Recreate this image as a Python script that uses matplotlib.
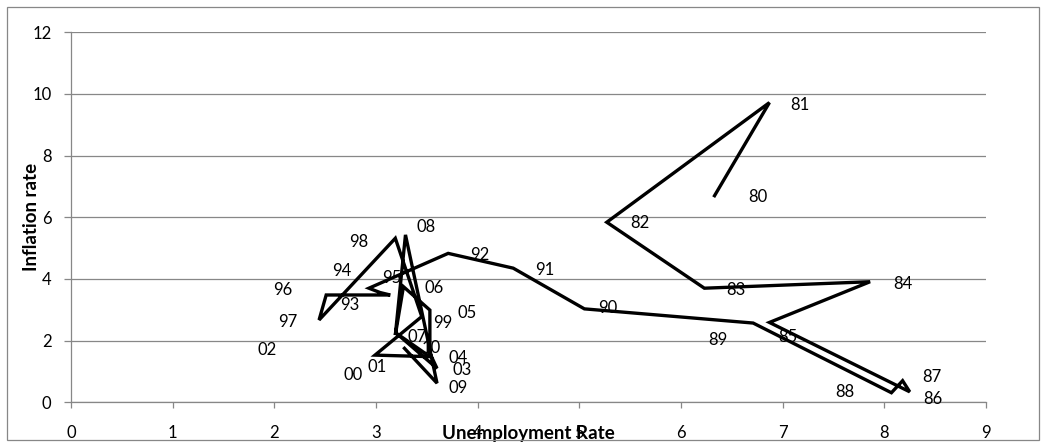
import matplotlib
matplotlib.use("Agg")
import matplotlib.pyplot as plt
from matplotlib.patches import Rectangle

# year labels and the (unemployment, inflation) path, in year order
years = ["80", "81", "82", "83", "84", "85", "86", "87", "88", "89",
         "90", "91", "92", "93", "94", "95", "96", "97", "98", "99",
         "00", "01", "02", "03", "04", "05", "06", "07", "08", "09", "10"]
unemployment = [6.33, 6.87, 5.27, 6.23, 7.86, 6.87, 8.25, 8.18, 8.07, 6.71,
                5.05, 4.35, 3.71, 2.93, 3.04, 3.14, 2.51, 2.44, 3.19, 3.45,
                2.99, 3.53, 3.20, 3.60, 3.53, 3.53, 3.27, 3.19, 3.29, 3.60, 3.28]
inflation = [6.70, 9.72, 5.84, 3.70, 3.91, 2.59, 0.34, 0.70, 0.31, 2.57,
             3.03, 4.35, 4.83, 3.70, 3.56, 3.48, 3.48, 2.67, 5.32, 2.78,
             1.53, 1.48, 2.24, 1.10, 1.59, 2.99, 3.75, 2.18, 5.43, 0.62, 1.75]

# where each year label sits relative to its point (pixels, y up)
label_offsets = {
    "80": (43, -1), "81": (30, -2), "82": (33, -1), "83": (32, -2),
    "84": (33, -2), "85": (18, -15), "86": (23, -7), "87": (29, 4),
    "88": (-47, 1), "89": (-35, -17), "90": (23, 1), "91": (32, -2),
    "92": (32, -2), "93": (-19, -17), "94": (-38, 22), "95": (2, 17),
    "96": (-43, 5), "97": (-31, -2), "98": (-37, -4), "99": (21, -6),
    "00": (-22, -20), "01": (-53, -10), "02": (-129, -17), "03": (25, -2),
    "04": (28, -5), "05": (37, -3), "06": (31, -1), "07": (22, -2),
    "08": (21, 8), "09": (21, -5), "10": (27, 0),
}

plt.rcParams["font.family"] = ["Lato", "DejaVu Sans"]
GRID = "#878787"
FS = 12

fig = plt.figure(figsize=(10.46, 4.46), dpi=100)
ax = fig.add_axes([0.0679, 0.098, 0.8747, 0.8296])

ax.plot(unemployment, inflation, color="black", lw=2.4, solid_joinstyle="miter",
        zorder=3)
for yr, x, y in zip(years, unemployment, inflation):
    dx, dy = label_offsets[yr]
    ax.annotate(yr, (x, y), xytext=(dx, dy), textcoords="offset pixels",
                ha="center", va="center", fontsize=FS, color="black", zorder=4)

ax.set_xlim(0, 9)
ax.set_ylim(0, 12)
ax.set_xticks(range(0, 10))
ax.set_yticks(range(0, 13, 2))
ax.grid(axis="y", color=GRID, lw=0.9)
ax.set_axisbelow(True)
for s in ("top", "right"):
    ax.spines[s].set_visible(False)
for s in ("left", "bottom"):
    ax.spines[s].set_color(GRID)
    ax.spines[s].set_linewidth(0.9)
ax.tick_params(axis="x", length=4.5, width=0.9, color=GRID, pad=12, labelsize=FS)
ax.tick_params(axis="y", length=5, width=0.9, color=GRID, pad=9, labelsize=FS)

ax.set_xlabel("Unemployment Rate", fontsize=13.5, fontweight="bold")
ax.set_ylabel("Inflation rate", fontsize=13.5, fontweight="bold")
ax.xaxis.set_label_coords(0.5, -0.062)
ax.yaxis.set_label_coords(-0.034, 0.5)

# chart area border
fig.add_artist(Rectangle((7 / 1046, 6 / 446), 1032 / 1046, 433 / 446,
                         transform=fig.transFigure, fill=False,
                         edgecolor=GRID, lw=0.9))

fig.savefig("out.png", dpi=100)
